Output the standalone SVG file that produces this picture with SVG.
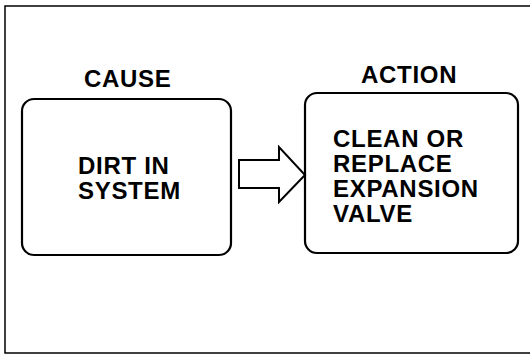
<svg xmlns="http://www.w3.org/2000/svg" width="530" height="360" viewBox="0 0 530 360">
<style>
.frame{fill:none;stroke:#000;stroke-width:1.5}
.box{fill:#fff;stroke:#000;stroke-width:2.2}
.arrow{fill:#fff;stroke:#000;stroke-width:2;stroke-linejoin:miter}
text{font-family:"Liberation Sans",Arial,sans-serif;font-weight:bold;font-size:24px;letter-spacing:0.7px;fill:#000}
</style>
<rect width="530" height="360" fill="#fff"/>
<path class="frame" d="M531,6 L5,6 L5,353 L531,353"/>
<g id="cause">
<text x="84" y="87">CAUSE</text>
<rect class="box" x="22" y="99" width="209" height="156" rx="12"/>
<text x="78" y="174">DIRT IN</text>
<text x="78" y="199">SYSTEM</text>
</g>
<g id="action">
<text x="361" y="83">ACTION</text>
<rect class="box" x="305" y="93" width="213" height="160" rx="12"/>
<text x="333" y="147">CLEAN OR</text>
<text x="333" y="172">REPLACE</text>
<text x="333" y="197">EXPANSION</text>
<text x="333" y="222">VALVE</text>
</g>
<g id="connectors">
<path class="arrow" d="M239,160 L279,160 L279,147 L305,175 L279,202 L279,188 L239,188 Z"/>
</g>
</svg>
